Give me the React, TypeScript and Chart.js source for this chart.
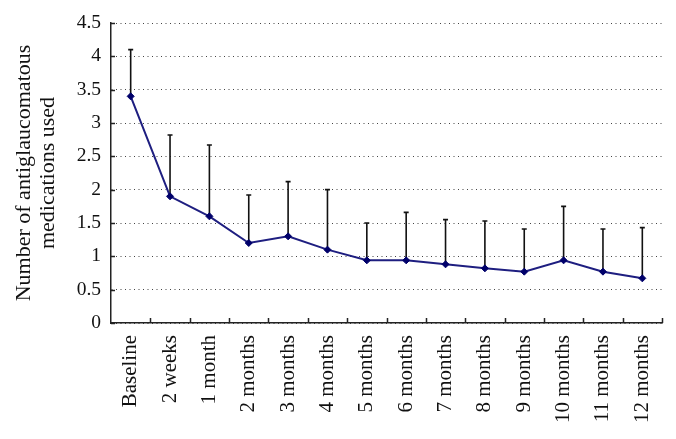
import React, { useEffect, useRef } from "react";
import { Chart, registerables } from "chart.js";

Chart.register(...registerables);

const categories = [
  "Baseline", "2 weeks", "1 month", "2 months", "3 months", "4 months", "5 months",
  "6 months", "7 months", "8 months", "9 months", "10 months", "11 months", "12 months",
];
const meanValues = [3.4, 1.9, 1.6, 1.2, 1.3, 1.1, 0.94, 0.94, 0.88, 0.82, 0.77, 0.94, 0.77, 0.67];
const upperValues = [4.1, 2.82, 2.67, 1.92, 2.12, 2.0, 1.5, 1.66, 1.55, 1.53, 1.41, 1.75, 1.41, 1.43];
const yTitle = ["Number of antiglaucomatous", "medications used"];
const yMin = 0;
const yMax = 4.5;
const yStep = 0.5;

const FONT = "'Liberation Serif', 'Times New Roman', serif";

const errorBarPlugin = {
  id: "errorBars",
  beforeDatasetsDraw(chart: any) {
    const { ctx, scales } = chart;
    const xs = scales.x;
    const ys = scales.y;
    ctx.save();
    ctx.strokeStyle = "#111";
    ctx.lineWidth = 1.6;
    meanValues.forEach((m, i) => {
      const x = xs.getPixelForValue(i);
      const y1 = ys.getPixelForValue(m);
      const y2 = ys.getPixelForValue(upperValues[i]);
      ctx.beginPath();
      ctx.moveTo(x, y1);
      ctx.lineTo(x, y2);
      ctx.moveTo(x - 2.5, y2);
      ctx.lineTo(x + 2.5, y2);
      ctx.stroke();
    });
    ctx.restore();
  },
};

const tickMarkPlugin = {
  id: "innerTicks",
  afterDraw(chart: any) {
    const { ctx, scales } = chart;
    const xs = scales.x;
    const ys = scales.y;
    ctx.save();
    ctx.strokeStyle = "#222";
    ctx.lineWidth = 1.5;
    ctx.beginPath();
    for (let i = 0; i < categories.length; i++) {
      const x = Math.round(xs.getPixelForValue(i + 0.5)) + 0.5;
      ctx.moveTo(x, ys.bottom);
      ctx.lineTo(x, ys.bottom - 5);
    }
    ys.ticks.forEach((t: any) => {
      const y = Math.round(ys.getPixelForValue(t.value)) + 0.5;
      ctx.moveTo(xs.left, y);
      ctx.lineTo(xs.left + 4, y);
    });
    ctx.stroke();
    ctx.restore();
  },
};

export default function App() {
  const ref = useRef<HTMLCanvasElement>(null);
  useEffect(() => {
    if (!ref.current) return;
    const chart = new Chart(ref.current, {
      type: "line",
      data: {
        labels: categories,
        datasets: [
          {
            data: meanValues,
            borderColor: "#1e1e80",
            backgroundColor: "#00006a",
            borderWidth: 2,
            pointStyle: "rectRot",
            pointRadius: 3.5,
            pointBackgroundColor: "#00006a",
            pointBorderColor: "#00006a",
            pointBorderWidth: 1,
            tension: 0,
          },
        ],
      },
      options: {
        responsive: false,
        animation: false,
        layout: { padding: { left: 0, top: 23, right: 14, bottom: 0 } },
        plugins: { legend: { display: false }, tooltip: { enabled: false } },
        scales: {
          x: {
            offset: true,
            grid: { display: false },
            border: { display: true, color: "#222", width: 1.5 },
            ticks: {
              color: "#111",
              font: { family: FONT, size: 21 },
              minRotation: 90,
              maxRotation: 90,
              padding: 4,
              autoSkip: false,
            },
            afterFit(scale: any) {
              scale.height = 116;
            },
          },
          y: {
            min: yMin,
            max: yMax,
            ticks: {
              stepSize: yStep,
              color: "#111",
              font: { family: FONT, size: 19.5 },
              padding: 10,
              callback: (v: any) => String(Number(v)),
            },
            grid: {
              color: "#444",
              lineWidth: 1,
              drawTicks: false,
            },
            border: { display: true, color: "#222", width: 1.5, dash: [1, 3.5] },
            title: {
              display: true,
              text: yTitle,
              color: "#111",
              font: { family: FONT, size: 22, lineHeight: 1.06 },
              padding: { top: 13, bottom: 0 },
            },
            afterFit(scale: any) {
              scale.width = 111;
            },
          },
        },
      },
      plugins: [errorBarPlugin, tickMarkPlugin],
    });
    return () => chart.destroy();
  }, []);
  return (
    <div style={{ position: "absolute", left: 0, top: 0, width: 676, height: 439 }}>
      <canvas ref={ref} width={676} height={439} />
    </div>
  );
}
